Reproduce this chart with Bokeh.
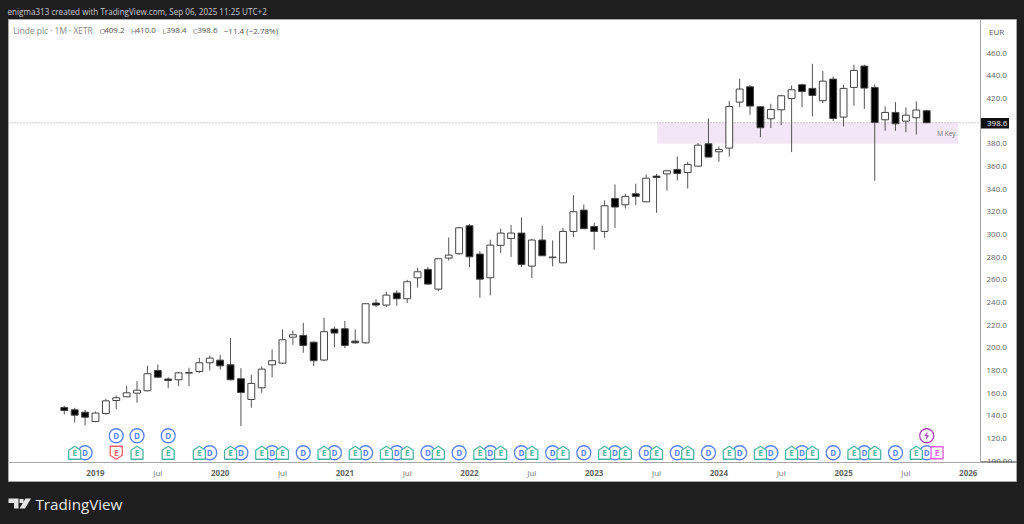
from bokeh.plotting import figure
from bokeh.embed import file_html
from bokeh.resources import INLINE
from bokeh.models import ColumnDataSource, FixedTicker, LinearAxis, Span
from bokeh.core.properties import value

# ---------- data ----------
opens = [147.4,145.3,143.2,135.0,142.1,153.5,156.8,160.0,162.1,180.0,172.4,171.8,177.6,179.1,186.8,189.1,185.0,172.7,154.4,164.7,185.0,186.5,209.4,210.9,205.0,189.2,216.5,216.8,205.9,204.4,239.5,237.7,248.3,243.3,261.8,269.2,251.8,279.2,283.0,307.7,282.7,261.8,290.4,296.5,301.2,272.1,295.1,279.5,275.0,302.7,321.5,307.1,302.7,331.8,326.2,335.9,328.8,351.5,353.5,357.4,354.7,360.3,380.0,373.0,376.2,416.8,430.3,412.7,402.1,410.0,420.0,432.1,428.9,418.0,437.1,403.6,429.8,448.6,429.8,401.2,407.7,400.0,403.0,409.2]
highs = [148.8,147.1,145.3,143.8,155.0,158.0,166.2,170.6,184.1,185.3,174.1,178.5,182.4,191.2,193.2,193.8,208.6,182.1,176.2,183.6,198.6,216.2,215.3,222.1,205.6,226.5,218.9,223.6,216.2,239.2,243.0,249.5,250.9,260.0,270.6,271.5,278.6,297.4,306.5,309.2,285.3,295.3,305.3,308.3,315.0,296.2,307.7,294.8,305.9,334.8,326.5,310.3,330.1,344.2,335.9,344.8,353.0,353.5,357.1,368.8,364.1,380.6,402.4,377.7,417.7,437.4,431.8,413.0,415.3,423.3,431.5,433.0,450.6,444.2,439.5,432.1,449.8,449.8,432.4,413.0,416.8,412.1,417.4,410.0]
lows = [141.2,134.1,131.5,134.4,140.9,145.9,156.5,151.5,161.5,173.5,164.4,166.2,166.2,177.9,180.0,180.9,171.2,130.9,147.1,160.3,173.9,185.9,202.7,195.6,183.9,188.3,200.6,199.7,203.6,203.6,235.9,235.9,237.1,239.5,253.0,255.6,250.1,277.1,282.1,271.2,244.2,246.2,283.6,280.1,271.2,261.5,281.2,271.8,274.8,297.7,304.8,286.5,297.1,305.6,323.0,325.9,328.6,319.1,338.8,347.7,340.6,360.0,368.0,364.2,368.9,412.4,405.6,385.9,393.9,396.5,372.7,412.4,404.2,415.9,400.0,395.3,413.6,410.9,347.4,391.5,391.5,390.3,388.3,398.4]
closes = [144.7,140.6,138.8,142.4,153.2,155.9,160.3,162.6,177.1,174.1,171.2,177.9,178.2,186.8,190.9,184.1,171.8,160.6,168.6,181.2,188.6,207.1,211.5,202.1,188.6,214.2,213.0,202.1,204.4,238.9,237.7,246.5,243.3,258.3,267.1,256.2,278.6,281.8,305.9,280.3,260.6,290.6,301.2,301.2,273.6,295.1,281.2,280.1,302.7,320.1,305.1,302.7,325.3,324.2,333.6,333.6,349.7,350.3,356.2,353.8,361.8,378.8,368.3,375.0,413.0,428.3,413.3,394.2,410.3,422.4,427.7,426.2,422.7,435.3,402.4,428.9,444.8,429.2,398.9,407.7,397.7,405.3,409.8,398.6]

price_ticks = [120,140,160,180,200,220,240,260,280,300,320,340,360,380,420,440,460]
year_ticks = [3,15,27,39,51,63,75,87]
year_labels = ["2019","2020","2021","2022","2023","2024","2025","2026"]
month_ticks = [9,21,33,45,57,69,81]
month_label = "Jul"

earn_idx = [1,7,10,13,16,19,21,25,28,31,33,36,40,42,45,48,52,54,57,60,64,67,70,72,76,78,82]
earn_miss_idx = [5]
earn_next_idx = [84]
div_idx = [2,14,17,20,23,26,29,32,35,38,41,44,47,50,53,56,59,62,65,68,71,74,77,80,83]
div_upper_idx = [5,7,10]
split_idx = [83]
key_zone = (57.06, 86.03, 380.0, 398.6)
last_price = 398.6
header = "enigma313 created with TradingView.com, Sep 06, 2025 11:25 UTC+2"
symbol = "Linde plc \u00b7 1M \u00b7 XETR"
currency = "EUR"

# ---------- style / layout ----------
W, H = 1024, 524
DARK = "#1e1e1e"
FONT = "Open Sans"
F_L, F_R, F_T, F_B = 8, 980, 19, 462
X0, STEP = 63.8, 10.39
PX = 1/STEP       # data per pixel, x
PY = 1/1.1333     # data per pixel, y
ROW = 107.4
UP_ROW = 122.4
GREEN, BLUE, RED, PINK, PURPLE = "#4db6a0", "#5b83f6", "#f2616b", "#e85cf0", "#ab47bc"
GRID = "#a8a8a8"

# ---------- page chrome: a full-canvas figure behind the chart ----------
bg = figure(width=W, height=H, output_backend="svg", toolbar_location=None,
            x_range=(0, W), y_range=(H, 0), x_axis_location=None, y_axis_location=None,
            min_border=0, background_fill_color=DARK, border_fill_color=DARK, outline_line_color=None)
bg.grid.visible = False

def box(l, r, t, b, color, line=None):
    bg.quad(left=[l], right=[r], top=[t], bottom=[b], fill_color=color, line_color=line)

def txt(x, y, s, color, size, style="normal", align="left"):
    bg.text(x=[x], y=[y], text=[s], text_color=color, text_font=value(FONT), text_font_size=f"{size}px",
            text_font_style=style, text_align=align, text_baseline="middle")

box(F_L, 1016, F_T, 481, "white", GRID)
txt(988.5, 31, currency, "#555555", 8)
txt(986.5, 461, "100.00", "#666666", 8)
box(981, 1015.5, 462, 480, "white")
box(980, 1016, 461, 462, "#333333")
box(980, 1008.5, 117.5, 128, "#111111")
txt(986.5, 122.7, "398.6", "#f0f0f0", 8)
for m in month_ticks:
    txt(X0+STEP*m, 472, month_label, "#777777", 8, align="center")
txt(7, 11, header, "#c8c8c8", 8.1)
txt(35, 503, "TradingView", "#e8e8e8", 15.2)
bg.patches(xs=[[8,18,18,13.5,13.5,8], [25,30.5,24.5,19], [19,23,23,19]],
           ys=[[498,498,508,508,502.5,502.5], [498,498,508,508], [498.5,498.5,502.5,502.5]],
           fill_color="#e6e6e6", line_color=None)

# ---------- chart ----------
p = figure(width=W, height=H, output_backend="svg", toolbar_location=None,
           x_range=(-5.37, 88.18), y_range=(98.8, 489.7), x_axis_location=None, y_axis_location=None,
           min_border_left=F_L, min_border_right=W-F_R, min_border_top=F_T, min_border_bottom=H-F_B,
           background_fill_color="white", border_fill_alpha=0,
           styles={"position": "absolute", "left": "0px", "top": "0px"})
p.grid.visible = False
p.outline_line_color = GRID
p.outline_line_width = 1

ya = LinearAxis(ticker=FixedTicker(ticks=price_ticks),
                major_label_overrides={t: f"{t}.0" for t in price_ticks})
ya.axis_line_color = None
ya.major_tick_line_color = None
ya.minor_tick_line_color = None
ya.major_tick_out = 0
ya.major_label_standoff = 6
ya.major_label_text_color = "#666666"
ya.major_label_text_font = FONT
ya.major_label_text_font_size = "8px"
p.add_layout(ya, "right")

xa = LinearAxis(ticker=FixedTicker(ticks=year_ticks),
                major_label_overrides=dict(zip(year_ticks, year_labels)))
xa.axis_line_color = None
xa.major_tick_line_color = None
xa.minor_tick_line_color = None
xa.major_tick_out = 0
xa.major_label_standoff = 7
xa.major_label_text_color = "#666666"
xa.major_label_text_font = FONT
xa.major_label_text_font_size = "8px"
xa.major_label_text_font_style = "bold"
p.add_layout(xa, "below")

# key zone
zl, zr, zb, zt = key_zone
p.quad(left=[zl], right=[zr], bottom=[zb], top=[zt], fill_color="#f3e6f6", line_color=None, level="underlay")
p.text(x=[zr-0.25], y=[(zb+zt)/2], text=["M Key"], text_color="#777777", text_font=value(FONT),
       text_font_size="6.5px", text_align="right", text_baseline="middle")

# last price line
p.add_layout(Span(location=last_price, dimension="width", line_color="#999999", line_width=1,
                  line_dash="1 2", level="underlay"))

# candles
n = len(opens)
idx = list(range(n))
up = [closes[i] >= opens[i] for i in idx]
src = ColumnDataSource(dict(x=idx, o=opens, h=highs, l=lows, c=closes,
                            top=[max(opens[i], closes[i]) for i in idx],
                            bot=[min(opens[i], closes[i]) for i in idx],
                            fill=["white" if u else "black" for u in up]))
p.segment(x0="x", x1="x", y0="l", y1="h", source=src, line_color="#555555", line_width=1)
p.vbar(x="x", top="top", bottom="bot", width=0.66, source=src, fill_color="fill", line_color="#444444", line_width=1)

# event badges
def house(i, row, down=False):
    s = -1 if down else 1
    pts = [(-6,-6.5),(6,-6.5),(6,2.5),(0,6.5),(-6,2.5)]
    return [i+a*PX for a,b in pts], [row+s*b*PY for a,b in pts]

def badge_text(xs, row, s, color):
    p.text(x=xs, y=[row]*len(xs), text=[s]*len(xs), text_color=color, text_font=value(FONT),
           text_font_size="8px", text_font_style="bold", text_align="center", text_baseline="middle")

p.segment(x0=[split_idx[0]], x1=[earn_next_idx[0]], y0=[ROW], y1=[ROW], line_color=PINK, line_dash="2 1")
for xs, row in ((div_idx, ROW), (div_upper_idx, UP_ROW)):
    p.scatter(x=xs, y=[row]*len(xs), marker="circle", size=14, fill_color="white", line_color=BLUE, line_width=1.3)
    badge_text(xs, row, "D", BLUE)

hs = [house(i, ROW) for i in earn_idx]
p.patches(xs=[a for a,b in hs], ys=[b for a,b in hs], fill_color="white", line_color=GREEN, line_width=1.3)
badge_text(earn_idx, ROW, "E", GREEN)
hs = [house(i, ROW, True) for i in earn_miss_idx]
p.patches(xs=[a for a,b in hs], ys=[b for a,b in hs], fill_color="white", line_color=RED, line_width=1.3)
badge_text(earn_miss_idx, ROW, "E", RED)
p.scatter(x=earn_next_idx, y=[ROW], marker="square", size=12, fill_color="white", line_color=PINK, line_width=1.3)
badge_text(earn_next_idx, ROW, "E", PINK)
p.scatter(x=split_idx, y=[UP_ROW], marker="circle", size=14, fill_color="white", line_color=PURPLE, line_width=1.3)
bolt = [(1,4.5),(-2.5,-0.5),(-0.2,-0.5),(-1,-4.5),(2.5,0.5),(0.2,0.5)]
p.patch(x=[split_idx[0]+a*PX for a,b in bolt], y=[UP_ROW+b*PY for a,b in bolt], fill_color=PURPLE, line_color=None)

# legend line
def ltxt(x, s, color, size=8):
    p.text(x=[(x-X0)*PX], y=[460+(52.7-30.5)*PY], text=[s], text_color=color, text_font=value(FONT),
           text_font_size=f"{size}px", text_align="left", text_baseline="middle")

ltxt(12.7, symbol, "#8a8a8a", 8.4)
for x, s, c in [(99, "O", "#8a8a8a"), (103.7, "409.2", "#555555"), (130.3, "H", "#8a8a8a"), (135, "410.0", "#555555"),
                (162, "L", "#8a8a8a"), (165.7, "398.4", "#555555"), (192.3, "C", "#8a8a8a"), (196.7, "398.6", "#555555"),
                (223.3, "\u221211.4 (\u22122.78%)", "#555555")]:
    ltxt(x, s, c)

html = file_html((bg, p), INLINE)
html = html.replace("<head>", f"<head><style>html,body{{margin:0;padding:0;overflow:hidden;background:{DARK}}}</style>", 1)
open("out.html", "w").write(html)
